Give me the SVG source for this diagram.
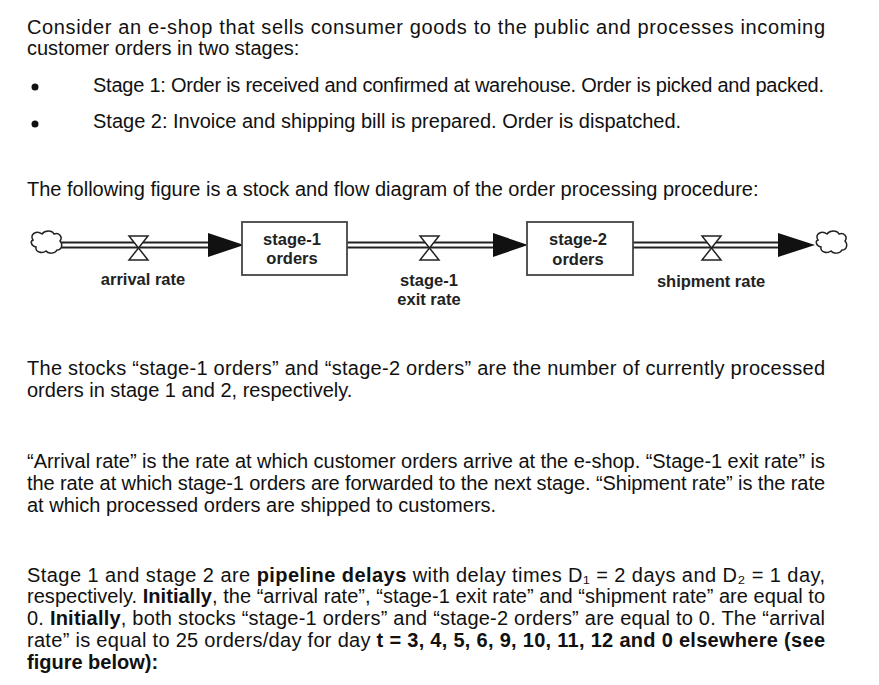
<svg xmlns="http://www.w3.org/2000/svg" width="879" height="685" viewBox="0 0 879 685">
<style>
.t{font-family:"Liberation Sans",Arial,sans-serif;font-size:20px;fill:#111}
.l{font-family:"Liberation Sans",Arial,sans-serif;font-size:16.5px;font-weight:bold;fill:#222}
.pipe{stroke:#222;stroke-width:7;fill:none}
.pin{stroke:#fff;stroke-width:3;fill:none}
.box{fill:#fff;stroke:#444;stroke-width:1.8}
.valve{fill:#fff;stroke:#222;stroke-width:1.5}
.cloud{fill:#fff;stroke:#222;stroke-width:1.5}
</style>
<rect width="879" height="685" fill="#fff"/>
<text class="t" x="27" y="34" textLength="798" lengthAdjust="spacing">Consider an e-shop that sells consumer goods to the public and processes incoming</text>
<text class="t" x="27" y="55">customer orders in two stages:</text>
<circle cx="35" cy="87" r="3.5" fill="#111"/>
<circle cx="35" cy="124" r="3.5" fill="#111"/>
<text class="t" x="93" y="92" textLength="731" lengthAdjust="spacing">Stage 1: Order is received and confirmed at warehouse. Order is picked and packed.</text>
<text class="t" x="93" y="128">Stage 2: Invoice and shipping bill is prepared. Order is dispatched.</text>
<text class="t" x="27" y="196">The following figure is a stock and flow diagram of the order processing procedure:</text>
<g id="connectors">
<path class="pipe" d="M60 245H222M347 245H512M633 245H795"/>
<path class="pin" d="M60 245H222M347 245H512M633 245H795"/>
<path d="M208 233L244 245L208 257Z" fill="#111"/>
<path d="M493 233L528 245L493 257Z" fill="#111"/>
<path d="M778 233L815 245L778 257Z" fill="#111"/>
</g>
<g id="cloud-source"><path class="cloud" d="M33 240c-4-6 4-10 9-6c3-4 10-4 12 0c5-2 9 3 6 7c3 3 2 9-3 9c-2 4-9 4-11 1c-4 3-11 1-10-4c-5-1-6-6-3-7z"/></g>
<g id="arrival-rate"><path class="valve" d="M129 236H148L129 260H148Z"/><text class="l" x="143" y="285" text-anchor="middle">arrival rate</text></g>
<g id="stage-1-orders"><rect class="box" x="242" y="222" width="105" height="53"/><text class="l" x="292" y="245" text-anchor="middle">stage-1</text><text class="l" x="292" y="264" text-anchor="middle">orders</text></g>
<g id="stage-1-exit-rate"><path class="valve" d="M420 236H439L420 260H439Z"/><text class="l" x="429" y="286" text-anchor="middle">stage-1</text><text class="l" x="429" y="305" text-anchor="middle">exit rate</text></g>
<g id="stage-2-orders"><rect class="box" x="527" y="222" width="106" height="53"/><text class="l" x="578" y="245" text-anchor="middle">stage-2</text><text class="l" x="578" y="265" text-anchor="middle">orders</text></g>
<g id="shipment-rate"><path class="valve" d="M702 236H721L702 260H721Z"/><text class="l" x="711" y="287" text-anchor="middle">shipment rate</text></g>
<g id="cloud-sink"><path class="cloud" d="M818 240c-4-6 4-10 9-6c3-4 10-4 12 0c5-2 9 3 6 7c3 3 2 9-3 9c-2 4-9 4-11 1c-4 3-11 1-10-4c-5-1-6-6-3-7z"/></g>
<text class="t" x="27" y="375" textLength="798" lengthAdjust="spacing">The stocks “stage-1 orders” and “stage-2 orders” are the number of currently processed</text>
<text class="t" x="27" y="397">orders in stage 1 and 2, respectively.</text>
<text class="t" x="27" y="468" textLength="798" lengthAdjust="spacing">“Arrival rate” is the rate at which customer orders arrive at the e-shop. “Stage-1 exit rate” is</text>
<text class="t" x="27" y="490" textLength="798" lengthAdjust="spacing">the rate at which stage-1 orders are forwarded to the next stage. “Shipment rate” is the rate</text>
<text class="t" x="27" y="512">at which processed orders are shipped to customers.</text>
<text class="t" x="27" y="582" textLength="798" lengthAdjust="spacing">Stage 1 and stage 2 are <tspan font-weight="bold">pipeline delays</tspan> with delay times D₁ = 2 days and D₂ = 1 day,</text>
<text class="t" x="27" y="603" textLength="798" lengthAdjust="spacing">respectively. <tspan font-weight="bold">Initially</tspan>, the “arrival rate”, “stage-1 exit rate” and “shipment rate” are equal to</text>
<text class="t" x="27" y="625" textLength="798" lengthAdjust="spacing">0. <tspan font-weight="bold">Initially</tspan>, both stocks “stage-1 orders” and “stage-2 orders” are equal to 0. The “arrival</text>
<text class="t" x="27" y="647" textLength="798" lengthAdjust="spacing">rate” is equal to 25 orders/day for day <tspan font-weight="bold">t = 3, 4, 5, 6, 9, 10, 11, 12 and 0 elsewhere (see</tspan></text>
<text class="t" x="27" y="669" font-weight="bold">figure below):</text>
</svg>
